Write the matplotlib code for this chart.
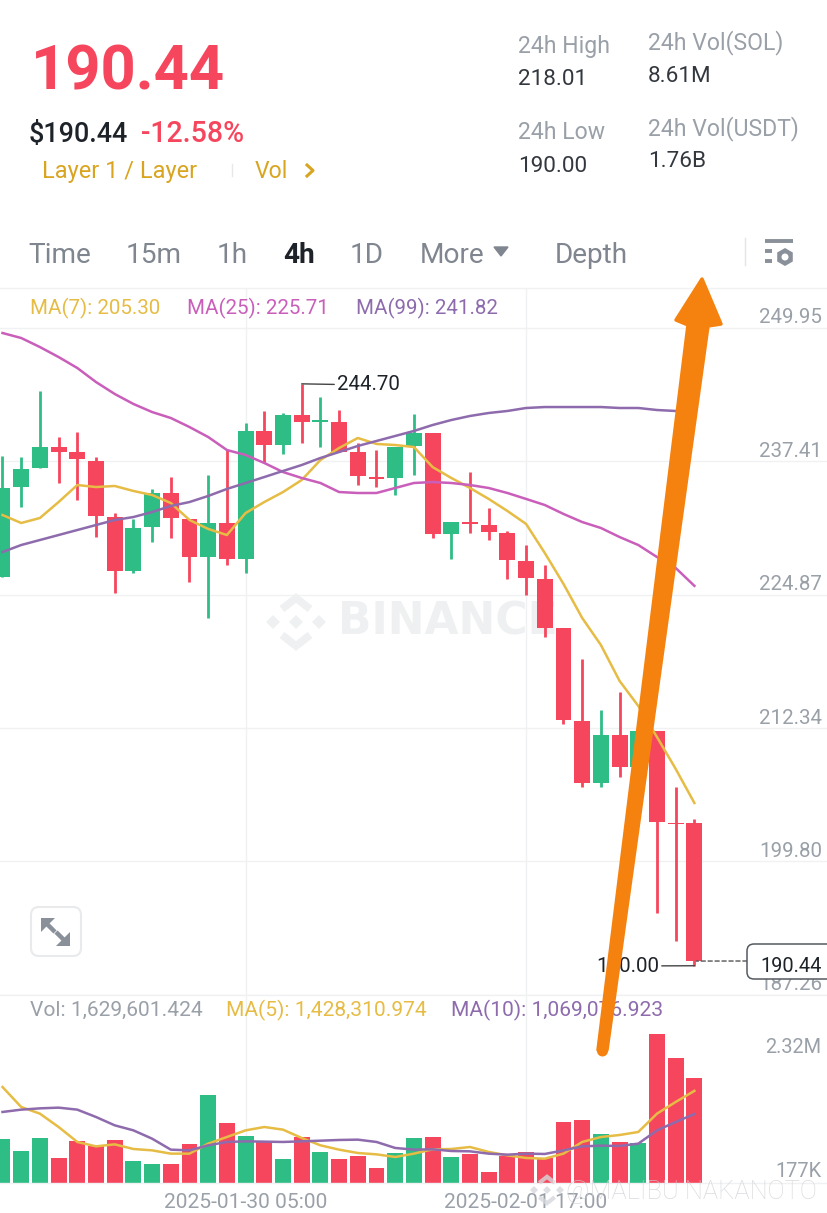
import matplotlib
matplotlib.use("Agg")
import matplotlib.pyplot as plt
from matplotlib.patches import Polygon, FancyBboxPatch, Circle, RegularPolygon
from matplotlib.lines import Line2D
from matplotlib.transforms import Affine2D
import numpy as np

plt.rcParams['font.family'] = ['Roboto', 'DejaVu Sans']

W, H = 828, 1213
RED, GREEN = '#F6465D', '#2EBD85'
GOLD, PINK, PURPLE = '#E6BC45', '#C95EBB', '#8E6BAD'
GRAY = '#9AA0A8'
DARK = '#1E2329'
GRID = '#F0F1F2'
ICON = '#8A9099'

# ---- data ----
open_ = [226.54,235.00,236.79,238.76,238.29,237.45,232.18,227.11,231.24,234.44,232.00,228.42,231.62,228.24,
         240.27,238.95,241.77,241.11,241.11,238.29,235.94,235.85,238.86,240.08,230.59,231.71,231.43,230.68,
         228.05,226.36,221.75,213.01,207.18,211.69,208.68,212.07,203.42,203.42]
close = [234.91,236.70,238.76,238.29,237.64,232.28,227.11,231.15,234.44,232.09,228.42,231.62,228.24,240.27,
         238.95,241.77,241.11,241.30,238.29,236.04,235.76,238.76,240.08,230.59,231.71,231.53,230.77,228.14,
         226.45,221.75,213.10,207.18,211.69,208.68,212.07,203.51,203.33,190.44]
high = [237.92,237.82,244.03,239.70,240.17,237.82,232.56,232.00,234.82,235.94,232.00,236.13,238.48,241.02,
        242.15,241.96,244.70,243.46,242.24,239.14,238.48,238.76,241.87,240.08,231.71,236.41,233.03,230.87,
        229.55,227.67,221.75,218.84,214.04,215.73,212.07,212.07,206.80,203.80]
low = [226.54,233.12,236.79,235.38,233.78,230.30,225.04,226.92,229.83,230.21,226.07,222.69,227.67,226.92,
       237.26,238.11,239.14,238.76,238.29,235.19,235.00,234.25,236.13,230.21,228.24,230.68,230.02,226.36,
       224.85,220.90,212.73,206.80,206.80,207.74,208.40,194.96,192.33,190.00]
ma7 = [232.37,231.62,232.09,233.59,235.19,235.00,235.10,234.63,234.25,233.50,231.90,231.06,230.49,232.56,
       233.59,234.53,235.66,237.54,238.67,239.61,239.05,238.95,238.76,236.88,235.85,234.91,233.88,232.75,
       231.53,228.80,225.89,222.69,220.15,216.77,214.42,211.50,208.50,205.30]
ma25 = [249.48,249.01,248.16,247.22,246.19,244.87,243.75,242.81,242.05,241.49,240.64,239.70,238.48,238.01,
        237.26,236.41,235.85,235.38,234.53,234.44,234.44,234.91,235.38,235.47,235.38,235.19,234.91,234.44,
        233.88,233.31,232.47,231.71,231.15,230.30,229.55,228.42,227.39,225.71]
ma99 = [228.89,229.55,230.02,230.49,230.96,231.43,231.90,232.18,232.65,233.22,233.59,234.16,234.82,235.38,
        235.94,236.51,237.07,237.73,238.29,238.86,239.33,239.80,240.27,240.83,241.30,241.68,241.96,242.15,
        242.43,242.52,242.52,242.52,242.52,242.43,242.43,242.24,242.15,241.82]
volume = [687,491,703,393,646,568,667,341,300,295,599,1359,935,734,656,377,713,481,377,419,238,460,703,
          713,403,444,171,419,481,388,940,982,754,630,620,2315,1938,1630]
vol_ma5 = [1488,1178,1075,868,636,568,599,527,506,455,455,610,713,816,868,827,698,584,517,465,444,403,455,
           522,527,558,481,429,388,377,455,636,713,744,791,1075,1256,1428]
vol_ma10 = [1101,1137,1157,1168,1137,1023,894,816,687,517,506,584,636,646,641,636,646,656,667,672,636,543,517,
            522,496,491,455,439,455,450,506,568,579,574,610,816,946,1069]
price_ticks = [249.95, 237.41, 224.87, 212.34, 199.80, 187.26]
time_ticks = {13: '2025-01-30 05:00', 28: '2025-02-01 17:00'}

fig = plt.figure(figsize=(W/100, H/100), dpi=100, facecolor='white')
px = Affine2D().scale(1/W, -1/H).translate(0, 1) + fig.transFigure

def T(x, y, s, size, color=GRAY, weight='normal', ha='left', z=3, **kw):
    return fig.text(x/W, 1-(y+3.5)/H, s, fontsize=size/1.389, color=color, fontweight=weight,
                    ha=ha, va='center', zorder=z, **kw)

def L(xs, ys, color, lw=1.0, z=2, **kw):
    fig.add_artist(Line2D(xs, ys, transform=px, color=color, lw=lw, zorder=z, **kw))

def panel(top, bottom):
    ax = fig.add_axes([0, 1-bottom/H, 1, (bottom-top)/H])
    ax.set_xlim(-2.5/18.7, (W-2.5)/18.7)
    ax.patch.set_alpha(0)
    for s in ax.spines.values():
        s.set_visible(False)
    ax.set_xticks(list(time_ticks))
    ax.set_xticklabels([])
    ax.tick_params(length=0, labelleft=False, labelbottom=False)
    ax.xaxis.grid(True, color=GRID, lw=1.0)
    ax.set_axisbelow(True)
    return ax

def logo(cx, cy, s, color, z, alpha=1.0):
    L([cx], [cy], color, z=z, marker='D', markersize=7*s, markeredgewidth=0, alpha=alpha)
    L([cx-23*s], [cy], color, z=z, marker='D', markersize=7*s, markeredgewidth=0, alpha=alpha)
    L([cx+23*s], [cy], color, z=z, marker='D', markersize=7*s, markeredgewidth=0, alpha=alpha)
    for sgn in (-1, 1):
        L([cx-14*s, cx, cx+14*s], [cy+sgn*13*s, cy+sgn*24*s, cy+sgn*13*s], color, lw=5.5*s, z=z,
          solid_joinstyle='miter', solid_capstyle='butt', alpha=alpha)

idx = np.arange(len(close))
colors = [GREEN if c >= o else RED for o, c in zip(open_, close)]

# ---- price panel ----
ax = panel(288, 995)
ax.set_ylim(187.25, 253.71)
ax.set_yticks(price_ticks)
ax.yaxis.grid(True, color=GRID, lw=1.0)
ax.vlines(idx, low, high, colors=colors, lw=2.0, zorder=2)
ax.bar(idx, np.abs(np.array(close)-np.array(open_)), bottom=np.minimum(open_, close),
       width=0.85, color=colors, zorder=3)
ax.plot(idx, ma7, color=GOLD, lw=1.8, zorder=4)
ax.plot(idx, ma25, color=PINK, lw=1.8, zorder=4)
ax.plot(idx, ma99, color=PURPLE, lw=1.8, zorder=4)
for p in price_ticks:
    ax.annotate(f'{p:.2f}', (759, p), xycoords=('figure pixels', 'data'), xytext=(0, 10/1.389),
                textcoords='offset points', fontsize=20.5/1.389, color=GRAY, va='center', ha='left', zorder=1)
# high / low markers
ax.annotate('244.70', (16, 244.70), xytext=(337, 385), textcoords=px, fontsize=20.5/1.389, color=DARK,
            va='center', ha='left', arrowprops=dict(arrowstyle='-', color='#444', lw=1, shrinkA=0, shrinkB=0))
ax.annotate('190.00', (37, 190.00), xytext=(596, 966), textcoords=px, fontsize=20.5/1.389, color=DARK,
            va='center', ha='left', arrowprops=dict(arrowstyle='-', color='#444', lw=1, shrinkA=0, shrinkB=0))
ax.annotate('', (37.1, close[-1]), xytext=(747, 961), textcoords=px,
            arrowprops=dict(arrowstyle='-', color='#555', lw=1, ls=(0, (3, 2)), shrinkA=0, shrinkB=0))

# ---- volume panel ----
av = panel(995, 1183)
av.set_ylim(0, 2914)
av.bar(idx, volume, width=0.85, color=colors, zorder=3)
av.plot(idx, vol_ma5, color=GOLD, lw=1.8, zorder=4)
av.plot(idx, vol_ma10, color=PURPLE, lw=1.8, zorder=4)

# separators
L([0, W], [288, 288], GRID)
L([0, W], [995, 995], GRID)
L([0, W], [1183, 1183], GRID)

# ---- header ----
T(31, 69, '190.44', 61.5, RED, 'bold')
T(29, 131, '$190.44', 27, DARK, 'medium')
T(141, 131, '-12.58%', 28.5, RED, 'medium')
T(42, 168, 'Layer 1 / Layer', 23.5, '#D9A521')
L([232, 232], [164, 176], '#E8E8E8')
T(255, 168, 'Vol', 23, '#D9A521')
L([307, 313, 307], [165, 170.5, 176], '#D9A521', lw=2.2)
T(518, 43, '24h High', 23, GRAY)
T(518, 76, '218.01', 22.5, '#33383F')
T(518, 129, '24h Low', 23, GRAY)
T(518, 163, '190.00', 22.5, '#33383F')
T(648, 39, '24h Vol(SOL)', 23, GRAY)
T(648, 73, '8.61M', 22.5, '#33383F')
T(648, 125, '24h Vol(USDT)', 23, GRAY)
T(648, 158, '1.76B', 22.5, '#33383F')

# tabs
for x, s in [(28, 'Time'), (126, '15m'), (217, '1h'), (350, '1D'), (420, 'More'), (555, 'Depth')]:
    T(x, 252, s, 28, '#80868F')
T(283, 252, '4h', 28, DARK, 'bold')
fig.add_artist(Polygon([(494, 247), (508, 247), (501, 256)], closed=True, transform=px, color='#80868F', zorder=3))
L([745, 745], [238, 265], '#E4E5E7')
L([765, 793], [241, 241], ICON, lw=2.8, solid_capstyle='butt')
L([765, 772], [251, 251], ICON, lw=2.8, solid_capstyle='butt')
L([765, 772], [261, 261], ICON, lw=2.8, solid_capstyle='butt')
fig.add_artist(RegularPolygon((785, 257), 6, radius=9, transform=px, fc=ICON, ec='none', zorder=3))
fig.add_artist(Circle((785, 257), 3.5, transform=px, fc='white', ec='none', zorder=3.1))

# MA legends
T(30, 305, 'MA(7): 205.30', 20.5, GOLD)
T(187, 305, 'MA(25): 225.71', 20.5, PINK)
T(356, 305, 'MA(99): 241.82', 20.5, PURPLE)
T(30, 1007, 'Vol: 1,629,601.424', 21, GRAY)
T(226, 1007, 'MA(5): 1,428,310.974', 21, GOLD)
T(451, 1007, 'MA(10): 1,069,076.923', 21, PURPLE)
T(765, 1044, '2.32M', 20, GRAY)
T(775, 1168, '177K', 20, GRAY)
for i, s in time_ticks.items():
    T(2.5+18.7*i, 1199, s, 21, GRAY, ha='center')

# price tag
fig.add_artist(FancyBboxPatch((751, 948), 90, 27, boxstyle='round,pad=4,rounding_size=7', transform=px,
                              fc='white', ec='#555A60', lw=1.1, zorder=3.5))
T(760, 963, '190.44', 20, DARK, z=4)

# expand button
fig.add_artist(FancyBboxPatch((34, 910), 44, 43, boxstyle='round,pad=3,rounding_size=8', transform=px,
                              fc='white', ec='#E8EAEC', lw=1.5, zorder=3))
for tri, seg in [([(41, 918), (55, 918), (41, 932)], ([46, 55], [923, 932])),
                 ([(70, 946), (56, 946), (70, 932)], ([56, 65], [932, 941]))]:
    fig.add_artist(Polygon(tri, closed=True, transform=px, fc=ICON, ec='none', zorder=4))
    L(seg[0], seg[1], ICON, lw=3.2, z=4, solid_capstyle='butt')

# watermarks (behind the candles)
fig.text(338/W, 1-622/H, 'BINANCE', fontsize=44/1.389, color='#EEF0F1', fontweight='bold',
         family='DejaVu Sans', ha='left', va='center', zorder=-1)
logo(296, 622, 1.0, '#EEF0F1', -1)
T(566, 1188, '@MALIBU NAKANOTO', 25.5, '#CFD2D6', 'light', z=5, alpha=0.8)
logo(547, 1190, 0.55, '#D5D8DB', 5, alpha=0.8)

# orange arrow overlay
arrow_pts = [(598, 1050), (607, 1050), (708, 326), (721, 324), (702, 279), (676, 320), (688, 325)]
fig.add_artist(Polygon(arrow_pts, closed=True, transform=px, fc='#F5820F', ec='#F5820F', lw=2.5,
                       joinstyle='round', zorder=10))
fig.add_artist(Circle((602.5, 1051), 5.5, transform=px, fc='#F5820F', ec='none', zorder=10))

fig.savefig('out.png', dpi=100, facecolor='white')
